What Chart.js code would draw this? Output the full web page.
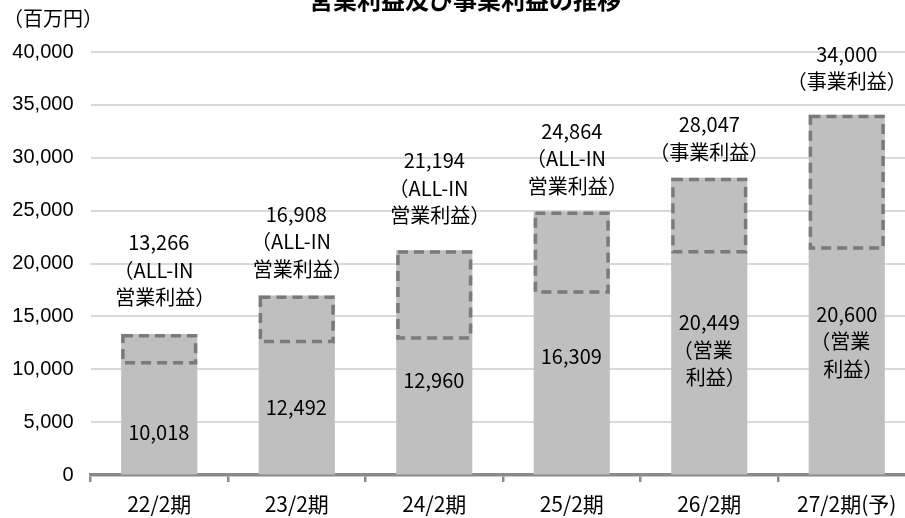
<!DOCTYPE html>
<html><head><meta charset="utf-8">
<script src="https://cdn.jsdelivr.net/npm/chart.js@4.4.1/dist/chart.umd.min.js"></script>
<style>
html,body{margin:0;padding:0;background:#fff;overflow:hidden;width:905px;height:518px}
#wrap{position:relative;width:925px;height:518px}
canvas{display:block}
</style></head><body>
<div id="wrap"><canvas id="c" width="925" height="518"></canvas></div>
<script>
// ---- data ----
const categories = ['22/2期', '23/2期', '24/2期', '25/2期', '26/2期', '27/2期(予)'];
const operatingProfit = [10018, 12492, 12960, 16309, 20449, 20600];
const upperProfit = [13266, 16908, 21194, 24864, 28047, 34000];
const boxLower = [10450, 12450, 12800, 17150, 20950, 21300];
const upperNote = [
  ['（ALL-IN', '営業利益）'],
  ['（ALL-IN', '営業利益）'],
  ['（ALL-IN', '営業利益）'],
  ['（ALL-IN', '営業利益）'],
  ['（事業利益）'],
  ['（事業利益）']
];
const lowerNote = [[], [], [], [], ['（営業', '利益）'], ['（営業', '利益）']];
const yTickValues = [0, 5000, 10000, 15000, 20000, 25000, 30000, 35000, 40000];
const chartTitle = '営業利益及び事業利益の推移';
const unitLabel = '（百万円）';

// ---- styling / placement (not data) ----
const CJK = "'Noto Sans CJK JP', 'Noto Sans', sans-serif";
const outerGap = [37, 27, 35, 26, 26, 34];     // px from box top to last line centre
const innerShift = [11, -1, -26, -32, -16, -24]; // px shift of inner block centre from bar middle
const lineH = 27.5;
const INFL = 0.6;
const fmt = v => v.toLocaleString('en-US');

function inkCentered(ctx, t, cx, y) {
  const m = ctx.measureText(t);
  const L = m.actualBoundingBoxLeft, R = m.actualBoundingBoxRight;
  ctx.textAlign = 'left';
  ctx.fillText(t, cx - (R - L) / 2, y);
}

const overlayPlugin = {
  id: 'overlay',
  afterDatasetsDraw(chart) {
    const ctx = chart.ctx;
    const ys = chart.scales.y;
    const m0 = chart.getDatasetMeta(0), m1 = chart.getDatasetMeta(1);
    ctx.save();
    // dashed boxes
    ctx.strokeStyle = '#7a7a7a';
    const lw = 3.5;
    ctx.lineWidth = lw;
    ctx.setLineDash([10, 6]);
    ctx.lineCap = 'butt';
    m1.data.forEach((el, i) => {
      const p = el.getProps(['x', 'y', 'width'], true);
      const left = p.x - p.width / 2 - INFL;
      const right = p.x + p.width / 2 + INFL;
      const top = p.y - INFL;
      const bottom = ys.getPixelForValue(boxLower[i]);
      ctx.strokeRect(left + lw / 2, top + lw / 2, right - left - lw, bottom - top - lw);
    });
    ctx.setLineDash([]);
    ctx.fillStyle = '#000';
    ctx.font = '20px ' + CJK;
    ctx.textBaseline = 'middle';
    // labels above boxes
    m1.data.forEach((el, i) => {
      const p = el.getProps(['x', 'y'], true);
      const lines = [fmt(upperProfit[i]), ...upperNote[i]];
      const lastY = p.y - outerGap[i];
      lines.forEach((t, k) => {
        inkCentered(ctx, t, p.x, lastY - (lines.length - 1 - k) * lineH);
      });
    });
    // labels inside base bars
    m0.data.forEach((el, i) => {
      const p = el.getProps(['x', 'y', 'base'], true);
      const lines = [fmt(operatingProfit[i]), ...lowerNote[i]];
      const c = (p.y + p.base) / 2 + innerShift[i];
      const y0 = c - (lines.length - 1) * lineH / 2;
      lines.forEach((t, k) => inkCentered(ctx, t, p.x, y0 + k * lineH));
    });
    ctx.restore();
  },
  afterDraw(chart) {
    const ctx = chart.ctx;
    ctx.save();
    ctx.fillStyle = '#000';
    ctx.textBaseline = 'alphabetic';
    ctx.textAlign = 'center';
    ctx.font = 'bold 24px ' + CJK;
    ctx.fillText(chartTitle, 465, 9);
    ctx.textAlign = 'left';
    ctx.textBaseline = 'middle';
    ctx.font = '20px ' + CJK;
    ctx.fillText(unitLabel, 3, 18);
    ctx.restore();
  }
};

new Chart(document.getElementById('c'), {
  type: 'bar',
  data: {
    labels: categories,
    datasets: [
      {
        label: '営業利益',
        data: operatingProfit,
        backgroundColor: '#bfbfbf',
        borderWidth: 0,
        inflateAmount: INFL,
        grouped: false,
        categoryPercentage: 1,
        barPercentage: 0.545
      },
      {
        label: '事業利益',
        data: operatingProfit.map((op, i) => [Math.min(op, boxLower[i]), upperProfit[i]]),
        backgroundColor: '#bfbfbf',
        borderWidth: 0,
        inflateAmount: INFL,
        grouped: false,
        categoryPercentage: 1,
        barPercentage: 0.545
      }
    ]
  },
  options: {
    responsive: false,
    animation: false,
    devicePixelRatio: 1,
    layout: { padding: { top: 52, right: 9.5, left: 0, bottom: 0 } },
    plugins: { legend: { display: false }, title: { display: false }, tooltip: { enabled: false } },
    scales: {
      x: {
        offset: true,
        grid: {
          display: true, drawOnChartArea: false, drawTicks: true, offset: true,
          tickLength: 7, color: '#8a8a8a', lineWidth: 2.5
        },
        border: { display: true, color: '#8a8a8a', width: 3.5 },
        ticks: { color: '#000', font: { family: CJK, size: 21 }, padding: 9, maxRotation: 0, autoSkip: false },
        afterFit: s => { s.height = 43; }
      },
      y: {
        min: 0, max: 40000,
        afterBuildTicks: s => { s.ticks = yTickValues.map(v => ({ value: v })); },
        grid: {
          drawTicks: false, lineWidth: 2,
          color: c => (c.tick && c.tick.value === 0) ? 'rgba(0,0,0,0)' : '#d9d9d9'
        },
        border: { display: false },
        ticks: {
          color: '#000', padding: 17,
          font: { family: "'Liberation Sans', Arial, sans-serif", size: 20 },
          callback: v => fmt(v)
        },
        afterFit: s => { s.width = 90.5; }
      }
    }
  },
  plugins: [overlayPlugin]
});
</script>
</body></html>
